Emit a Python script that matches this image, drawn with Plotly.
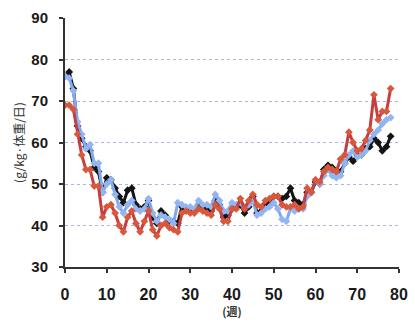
import plotly.graph_objects as go

weeks = list(range(0, 79))

black = [76, 77, 73, 64, 61, 59, 58, 54, 53, 48, 51.5, 51, 49, 47, 45.5, 48.5, 49, 45, 44, 44.5,
         46, 42, 40.5, 43.5, 42.5, 41, 41, 40.5, 44.5, 44, 44, 43.5, 45, 44.5, 44, 43.5, 46, 45, 42, 42.5,
         44, 44.5, 45, 43, 44.5, 47, 43, 43.5, 45, 46, 47, 47, 46.5, 47, 49, 46, 45.5, 45, 48, 48,
         50.5, 50, 53.5, 54.5, 54, 53, 53, 55, 56.5, 55.5, 57, 57, 58.5, 59, 61, 60, 58, 59, 61.5]

blue = [76, 75.5, 72.5, 65, 62, 58.5, 59.5, 55, 55, 48, 50, 51, 47.5, 44.5, 43, 45, 46, 44, 43.5, 44,
        46.5, 43, 41, 42.5, 42, 41.5, 40.5, 45.5, 45, 44.5, 44.5, 44, 46, 45, 45, 44.5, 47.5, 46, 43.5, 43.5,
        45.5, 45, 45.5, 44.5, 45, 46, 42.5, 43, 44, 44.5, 45.5, 44, 41.5, 41, 44, 43.5, 44, 44, 47, 48,
        51, 50, 52, 53.5, 52, 51.5, 52, 55, 57, 58, 56.5, 57, 58, 60.5, 62, 63, 64.5, 65.5, 66]

red = [69, 69, 68, 62, 57, 53.5, 53.5, 49.5, 49.5, 42, 44.5, 45, 43, 40, 38.5, 42, 43.5, 40.5, 38.5, 41,
       43.5, 39, 37.5, 40, 40.5, 39.5, 39, 38.5, 43, 43.5, 43, 43, 44, 43.5, 43, 42.5, 45, 44, 41, 41,
       44, 44, 46.5, 44, 46, 47.5, 45, 44.5, 46, 46.5, 47, 47, 45, 44.5, 44.5, 45, 44, 44.5, 49, 48,
       51, 50.5, 53, 54, 53.5, 53, 56, 57, 62.5, 60, 58, 58.5, 60.5, 63, 71.5, 65.5, 67.5, 67.5, 73]

x_ticks = [0, 10, 20, 30, 40, 50, 60, 70, 80]
y_ticks = [30, 40, 50, 60, 70, 80, 90]

fig = go.Figure()
series = [
    (black, "#141414", "#141414"),
    (blue, "#82a8ee", "#93b6f2"),
    (red, "#c63e40", "#d8583c"),
]
for vals, lc, mc in series:
    fig.add_trace(go.Scatter(
        x=weeks, y=vals, mode="lines+markers",
        line=dict(color=lc, width=3),
        marker=dict(symbol="diamond", size=6, color=mc),
        showlegend=False, hoverinfo="skip",
    ))

fig.update_layout(
    width=415, height=336,
    margin=dict(l=65, r=7, t=18, b=69),
    paper_bgcolor="white", plot_bgcolor="white",
    font=dict(family="Liberation Sans, Arial, sans-serif", color="#1a1a1a"),
    xaxis=dict(
        range=[0, 80], tickvals=x_ticks, ticktext=[f"<b>{v}</b>" for v in x_ticks],
        showgrid=False, zeroline=False,
        showline=True, linecolor="#333", linewidth=2,
        ticks="outside", ticklen=4, tickwidth=1.5, tickcolor="#333",
        ticklabelstandoff=8, ticklabeloverflow="allow",
        tickfont=dict(size=16, color="#1a1a1a"),
        title=dict(text="<b>(週)</b>", font=dict(size=11, family="Noto Sans CJK JP", color="#333"), standoff=0),
    ),
    yaxis=dict(
        range=[30, 90], tickvals=y_ticks, ticktext=[f"<b>{v}</b>" for v in y_ticks],
        showgrid=True, gridcolor="#b0b4d6", griddash="dot", gridwidth=1,
        zeroline=False,
        showline=True, linecolor="#333", linewidth=2,
        ticks="outside", ticklen=4, tickwidth=1.5, tickcolor="#333",
        ticklabelstandoff=8,
        tickfont=dict(size=15, color="#1a1a1a"),
        title=dict(text="(g/kg·体重/日)", font=dict(size=12, family="Noto Sans CJK JP", color="#333"), standoff=4),
    ),
)

fig.write_html("out.html")
